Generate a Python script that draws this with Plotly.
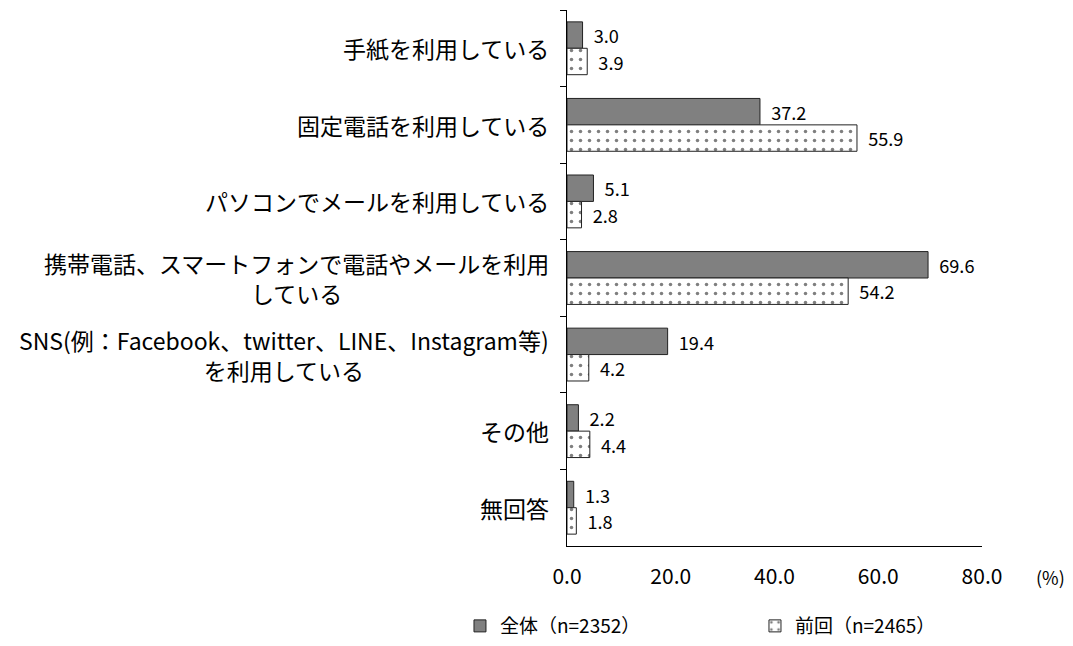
import plotly.graph_objects as go

categories = [
    "手紙を利用している",
    "固定電話を利用している",
    "パソコンでメールを利用している",
    "携帯電話、スマートフォンで電話やメールを利用<br>している",
    "SNS(例：Facebook、twitter、LINE、Instagram等)<br>を利用している",
    "その他",
    "無回答",
]
cat_ids = [f"c{i}" for i in range(len(categories))]
series_names = ["全体（n=2352）", "前回（n=2465）"]
values_all = [3.0, 37.2, 5.1, 69.6, 19.4, 2.2, 1.3]
values_prev = [3.9, 55.9, 2.8, 54.2, 4.2, 4.4, 1.8]
x_ticks = [0, 20, 40, 60, 80]
x_tick_labels = ["0.0", "20.0", "40.0", "60.0", "80.0"]

FONT = "Noto Sans CJK JP"

fig = go.Figure()
fig.add_trace(go.Bar(
    y=cat_ids, x=values_all, orientation="h", name=series_names[0],
    marker=dict(color="#808080", line=dict(color="#222222", width=1)),
    text=[f"{v:.1f}" for v in values_all], texttemplate="  %{text}", textposition="outside",
    textfont=dict(size=22, color="black", family=FONT),
    cliponaxis=False, legend="legend",
))
fig.add_trace(go.Bar(
    y=cat_ids, x=values_prev, orientation="h", name=series_names[1],
    marker=dict(color="white", line=dict(color="#222222", width=1),
                pattern=dict(shape=".", fgcolor="black", bgcolor="white", size=9, solidity=0.12)),
    text=[f"{v:.1f}" for v in values_prev], texttemplate="  %{text}", textposition="outside",
    textfont=dict(size=22, color="black", family=FONT),
    cliponaxis=False, legend="legend2",
))

annotations = []
for cid, label in zip(cat_ids, categories):
    annotations.append(dict(
        x=-0.038, xref="paper", y=cid, yref="y", text=label, showarrow=False,
        xanchor="right", yanchor="middle", align="center",
        font=dict(size=23, color="black", family=FONT),
    ))
annotations.append(dict(
    x=1.164, xref="paper", y=-0.058, yref="paper", text="(%)", showarrow=False,
    xanchor="center", yanchor="middle", font=dict(size=18, color="black", family=FONT),
))

legend_common = dict(
    orientation="h", xref="container", yref="container",
    xanchor="left", y=0.019, yanchor="middle",
    font=dict(size=19, family=FONT), itemwidth=30,
)

fig.update_layout(
    width=1057, height=630,
    margin=dict(l=559, r=83, t=2, b=92, autoexpand=False),
    paper_bgcolor="white", plot_bgcolor="white",
    barmode="group", bargap=0.31, bargroupgap=0,
    font=dict(family=FONT, color="black"),
    annotations=annotations,
    showlegend=True,
    legend=dict(x=0.4276, **legend_common),
    legend2=dict(x=0.7067, **legend_common),
)
fig.update_xaxes(
    range=[0, 80], tickvals=x_ticks, ticktext=x_tick_labels,
    showgrid=False, zeroline=False, showline=True, linecolor="black", linewidth=1,
    ticks="", ticklabelstandoff=12, tickfont=dict(size=21, family=FONT), fixedrange=True,
)
fig.update_yaxes(
    autorange="reversed", showticklabels=False, tickson="boundaries",
    ticks="outside", ticklen=6, tickcolor="black",
    showline=True, linecolor="black", linewidth=1, showgrid=False, zeroline=False,
)

fig.write_html("out.html")
